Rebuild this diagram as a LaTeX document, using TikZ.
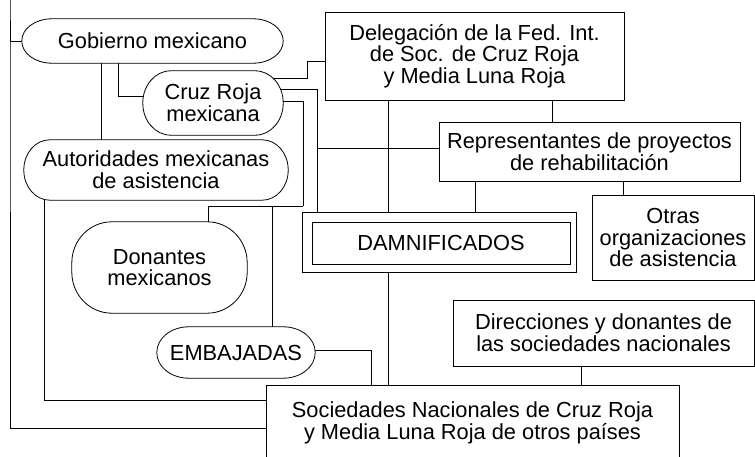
\documentclass[tikz,border=0pt]{standalone}
\usepackage{fontspec}
\setmainfont{Liberation Sans}
\pgfdeclarelayer{conn}
\pgfdeclarelayer{shp}
\pgfsetlayers{conn,shp,main}
\tikzset{
  lbl/.style={inner sep=0pt, align=center, font=\fontsize{21.8}{21.7}\selectfont},
  boxn/.style={lbl, draw, fill=white, line width=0.8pt},
  wire/.style={line width=0.8pt},
  outl/.style={draw, fill=white, line width=0.8pt},
}
% rounded outline: #1 node name, #2 rx, #3 ry (quarter elliptical corners)
\newcommand\stadshape[3]{%
  \draw[outl] ([xshift=#2pt]#1.north west) -- ([xshift=-#2pt]#1.north east)
    arc[start angle=90, end angle=0, x radius=#2pt, y radius=#3pt]
    -- ([yshift=#3pt]#1.south east)
    arc[start angle=0, end angle=-90, x radius=#2pt, y radius=#3pt]
    -- ([xshift=#2pt]#1.south west)
    arc[start angle=270, end angle=180, x radius=#2pt, y radius=#3pt]
    -- ([yshift=-#3pt]#1.north west)
    arc[start angle=180, end angle=90, x radius=#2pt, y radius=#3pt] -- cycle;}
\begin{document}
\begin{tikzpicture}[x=1pt,y=-1pt]
\clip (0,0) rectangle (755,457);
% rounded nodes (outline drawn on shp layer)
\node[lbl, minimum width=261pt, minimum height=44pt] (gob) at (152.5,41) {Gobierno mexicano};
\node[lbl, minimum width=140pt, minimum height=64pt] (cruz) at (213,103) {Cruz Roja\\mexicana};
\node[lbl, minimum width=264pt, minimum height=60pt] (aut) at (156,170) {Autoridades mexicanas\\de asistencia};
\node[lbl, minimum width=175pt, minimum height=91pt] (don) at (159.5,267.5) {Donantes\\mexicanos};
\node[lbl, minimum width=158pt, minimum height=51pt] (emb) at (236,352.5) {EMBAJADAS};
% rectangular nodes
\node[boxn, minimum width=299pt, minimum height=88pt] (del) at (474.5,56) {Delegación de la Fed. Int.\\de Soc. de Cruz Roja\\y Media Luna Roja};
\node[boxn, minimum width=301pt, minimum height=59pt] (rep) at (589.5,151.5) {Representantes de proyectos\\de rehabilitación};
\node[boxn, minimum width=258pt, minimum height=42pt] (dam) at (441,243) {DAMNIFICADOS};
\node[boxn, minimum width=162pt, minimum height=85pt] (otr) at (673,237.5) {Otras\\organizaciones\\de asistencia};
\node[boxn, minimum width=301pt, minimum height=66pt] (dir) at (603.5,333) {Direcciones y donantes de\\las sociedades nacionales};
\node[boxn, minimum width=413pt, minimum height=76pt] (soc) at (472.5,423) {Sociedades Nacionales de Cruz Roja\\y Media Luna Roja de otros países};
\begin{pgfonlayer}{shp}
\stadshape{gob}{30}{22}
\stadshape{cruz}{28}{32}
\stadshape{aut}{26}{30}
\stadshape{don}{40}{41}
\stadshape{emb}{32}{25.5}
\draw[outl] ([xshift=-9pt,yshift=9pt]dam.north west) rectangle ([xshift=6pt,yshift=-8pt]dam.south east);
\end{pgfonlayer}
\begin{pgfonlayer}{conn}
\fill[white] (0,0) rectangle (755,457);
\coordinate (xl) at (10,0);
\coordinate (xa) at (44,0);
\draw[wire] (gob.center) -| (xl) |- (soc.west |- 0,428);
\draw[wire] (aut.center -| xa) |- (soc.west |- 0,400);
\draw[wire] (gob.center -| 101,0) -- (aut.center -| 101,0);
\draw[wire] (gob.center -| 118,0) |- (cruz.center |- 0,96);
\draw[wire] (cruz.center |- 0,78) -| (307,61) -- (del.west |- 0,61);
\draw[wire] (cruz.center |- 0,89) -| (dam.north -| 317,0);
\coordinate (jr) at (317,148);
\draw[wire] (jr) -- (rep.west |- jr);
\draw[wire] (cruz.center |- 0,101) -| (303,206) coordinate (jd);
\draw[wire] (jd) -| (don.center -| 208,0);
\draw[wire] (jd -| 272.5,0) -- (emb.center -| 272.5,0);
\draw[wire] (del.south -| 388,0) -- (dam.north -| 388,0);
\draw[wire] (del.south -| 552,0) -- (rep.north -| 552,0);
\draw[wire] (rep.south -| 475,0) -- (dam.north -| 475,0);
\draw[wire] (rep.south -| 623,0) -- (otr.north -| 623,0);
\draw[wire] (dam.south -| 388,0) -- (soc.north -| 388,0);
\draw[wire] (emb.center |- 0,350) -| (soc.north -| 371,0);
\draw[wire] (dir.south -| 581,0) -- (soc.north -| 581,0);
\end{pgfonlayer}
\end{tikzpicture}
\end{document}
